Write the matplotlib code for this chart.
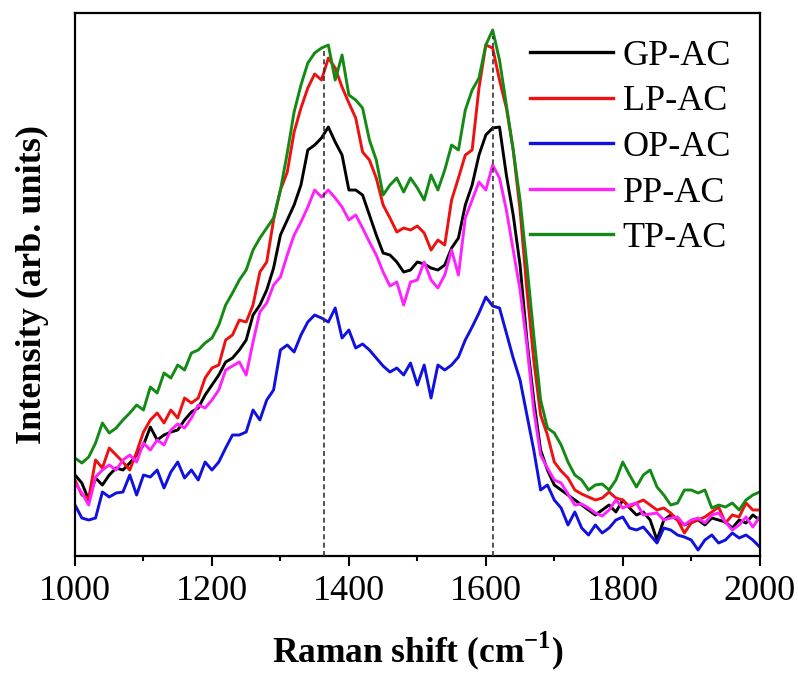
import numpy as np
import matplotlib
matplotlib.use("Agg")
import matplotlib.pyplot as plt

plt.rcParams['font.family'] = ['Liberation Serif', 'DejaVu Serif']

# Raman shift grid (cm^-1)
raman_shift = list(range(1000, 2001, 10))

gp_ac = [81, 73, 56, 78, 71, 81, 88, 86, 93, 101,
         111, 129, 116, 121, 124, 126, 136, 144, 148, 161,
         171, 181, 194, 198, 206, 216, 241, 251, 266, 288,
         321, 336, 351, 371, 406, 411, 418, 429, 414, 401,
         366, 366, 361, 341, 321, 303, 301, 294, 284, 286,
         294, 292, 288, 286, 291, 308, 318, 351, 371, 401,
         421, 428, 429, 381, 341, 291, 216, 156, 106, 86,
         71, 66, 61, 56, 51, 46, 41, 46, 51, 44,
         56, 48, 41, 44, 36, 16, 36, 41, 36, 31,
         34, 36, 31, 38, 36, 34, 28, 36, 33, 41, 36]

lp_ac = [76, 61, 58, 96, 88, 108, 101, 94, 86, 104,
         124, 136, 143, 133, 146, 138, 158, 153, 158, 178,
         188, 191, 216, 221, 236, 234, 251, 284, 294, 336,
         366, 384, 424, 448, 468, 482, 476, 498, 488, 469,
         453, 438, 404, 396, 378, 351, 338, 324, 328, 326,
         330, 323, 306, 316, 311, 356, 378, 401, 406, 468,
         511, 508, 476, 448, 406, 346, 266, 196, 141, 121,
         94, 85, 78, 66, 62, 59, 56, 58, 64, 58,
         56, 49, 53, 56, 51, 46, 48, 43, 36, 23,
         33, 36, 39, 44, 49, 33, 41, 39, 53, 46, 46]

op_ac = [51, 38, 36, 38, 64, 59, 63, 64, 81, 61,
         81, 79, 86, 68, 84, 94, 78, 86, 76, 94,
         86, 94, 108, 121, 121, 124, 146, 136, 156, 166,
         206, 211, 204, 221, 234, 241, 238, 234, 248, 218,
         226, 208, 212, 206, 198, 190, 184, 188, 181, 193,
         171, 191, 158, 191, 186, 191, 199, 216, 229, 243,
         259, 250, 248, 223, 198, 176, 141, 106, 66, 71,
         56, 48, 31, 44, 28, 21, 31, 23, 28, 36,
         39, 28, 26, 29, 21, 13, 28, 26, 21, 19,
         16, 6, 16, 21, 13, 16, 23, 18, 21, 16, 9]

pp_ac = [73, 63, 51, 79, 86, 91, 86, 96, 101, 94,
         113, 106, 116, 111, 126, 132, 128, 138, 151, 148,
         156, 166, 186, 190, 194, 181, 214, 244, 253, 271,
         279, 301, 321, 334, 349, 366, 359, 366, 358, 349,
         336, 341, 328, 314, 301, 284, 270, 274, 251, 274,
         276, 294, 276, 268, 281, 306, 281, 338, 356, 374,
         366, 391, 378, 346, 306, 266, 211, 146, 101, 88,
         76, 73, 62, 51, 52, 48, 43, 40, 46, 56,
         48, 51, 53, 41, 42, 43, 36, 38, 39, 31,
         36, 38, 33, 41, 43, 34, 26, 31, 39, 29, 39]

tp_ac = [98, 93, 99, 113, 133, 123, 128, 136, 143, 151,
         146, 169, 163, 183, 178, 191, 186, 203, 206, 213,
         218, 231, 251, 263, 276, 286, 306, 318, 328, 338,
         366, 403, 444, 471, 493, 503, 508, 511, 476, 501,
         461, 456, 448, 416, 396, 361, 371, 378, 364, 378,
         368, 356, 381, 366, 386, 411, 406, 446, 466, 478,
         511, 526, 496, 451, 406, 356, 291, 221, 156, 128,
         123, 111, 94, 81, 76, 66, 71, 72, 66, 76,
         94, 81, 69, 81, 86, 69, 61, 51, 53, 66,
         66, 63, 66, 48, 51, 49, 53, 46, 56, 61, 64]

series_labels = ['GP-AC', 'LP-AC', 'OP-AC', 'PP-AC', 'TP-AC']
series_values = [gp_ac, lp_ac, op_ac, pp_ac, tp_ac]
series_colors = ['#000000', '#ee1111', '#1010e0', '#ff22ff', '#138a13']

band_positions = [1363, 1610]
band_tops = [505, 520]

x_ticks = [1000, 1200, 1400, 1600, 1800, 2000]

fig = plt.figure(figsize=(7.98, 6.75), dpi=100)
ax = fig.add_axes([0.094, 0.1763, 0.858, 0.8044])

for lab, vals, col in zip(series_labels, series_values, series_colors):
    ax.plot(raman_shift, vals, color=col, lw=2.1, label=lab, zorder=2)

ax.vlines(band_positions, 0, band_tops, colors='#333333', linestyles=(0, (3, 2)),
          lw=1.2, zorder=3)

ax.set_xlim(1000, 2000)
ax.set_ylim(0, 543)
ax.set_xticks(x_ticks)
ax.set_xticks(list(range(1100, 2000, 200)), minor=True)
ax.set_yticks([])
ax.tick_params(axis='x', which='major', direction='out', length=7, width=1.5,
               labelsize=26, pad=7, top=False)
ax.tick_params(axis='x', which='minor', direction='out', length=3.6, width=1.5, top=False)
for s in ax.spines.values():
    s.set_linewidth(1.6)

ax.set_xlabel('Raman shift (cm$^{\\mathregular{-1}}$)', fontsize=25.5, fontweight='bold', labelpad=15)
ax.set_ylabel('Intensity (arb. units)', fontsize=26, fontweight='bold', labelpad=19)

leg = ax.legend(loc='upper left', bbox_to_anchor=(0.664, 0.951), frameon=False,
                fontsize=26, handlelength=2.3, handletextpad=0.28, labelspacing=0.34,
                borderpad=0, borderaxespad=0)
for h in leg.get_lines():
    h.set_linewidth(2.4)

fig.savefig('out.png', dpi=100)
